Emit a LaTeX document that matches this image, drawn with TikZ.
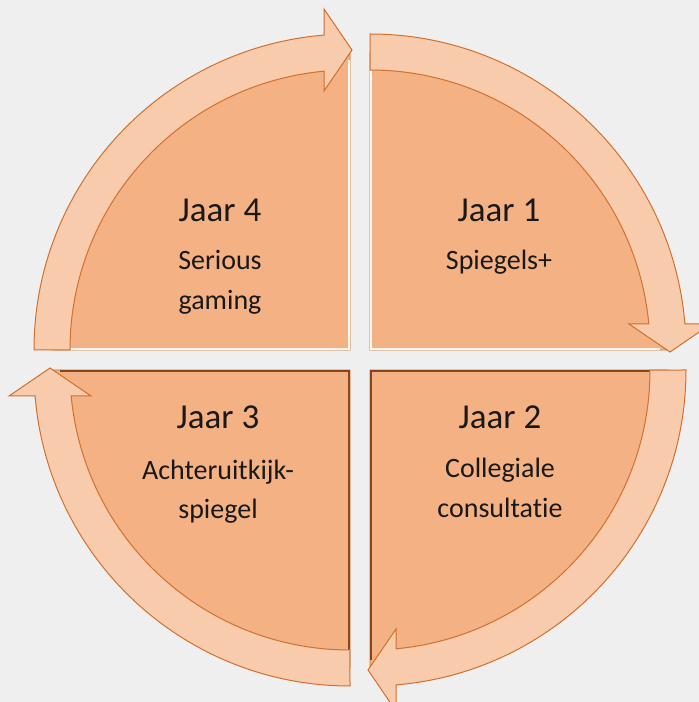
\documentclass[tikz,border=0pt]{standalone}
\usepackage{fontspec}
\setmainfont{Carlito}[Ligatures={NoCommon}]
\definecolor{bg}{HTML}{EFEFEF}
\definecolor{piefill}{HTML}{F4B183}
\definecolor{bandfill}{HTML}{F8CBAD}
\definecolor{edgecol}{HTML}{D2702C}
\definecolor{darkcol}{HTML}{8A4516}
\definecolor{lightcol}{HTML}{FFF6EE}
\tikzset{
  x=1pt, y=1pt,
  piebox/.style={fill=piefill, draw=edgecol, line width=0.8pt},
  bandshape/.style={fill=bandfill, draw=edgecol, line width=1pt, line join=miter},
  hilite/.style={draw=lightcol, line width=1.4pt},
  lolite/.style={draw=darkcol, line width=1.6pt},
  titletext/.style={font=\fontsize{35}{42}\selectfont, anchor=base, inner sep=0pt, text=black!90},
  bodytext/.style={font=\fontsize{28}{34}\selectfont, anchor=base, inner sep=0pt, text=black!90},
}
\begin{document}
\begin{tikzpicture}
\fill[bg] (0,0) rectangle (699,702);
\useasboundingbox (0,0) rectangle (699,702);
% quadrants: centre, rotation, highlight style
\foreach \cx/\cy/\rot/\hl in {370/352/0/hilite, 370/332/-90/lolite, 350/332/-180/lolite, 350/352/90/hilite}{
  \begin{scope}[shift={(\cx,\cy)}, rotate=\rot]
    \path[piebox] (0,0) -- (0,298) arc[start angle=90, end angle=0, radius=298] -- cycle;
    \path[\hl] (1,290) -- (1,1) -- (290,1);
  \end{scope}
}
\foreach \cx/\cy/\rot in {370/352/0, 370/332/-90, 350/332/-180, 350/352/90}{
  \begin{scope}[shift={(\cx,\cy)}, rotate=\rot]
    \path[bandshape] (0,316) arc[start angle=90, end angle=4.72, radius=316]
      -- (341,26) -- (300,-2) -- (259,26) -- (278.8,26)
      arc[start angle=5.33, end angle=90, radius=280] -- cycle;
  \end{scope}
}
% texts (Y = 702 - pixel y)
\node[titletext] (t1) at (499,480) {Jaar 1};
\node[bodytext]  (b1) at (499,432) {Spiegels+};
\node[titletext] (t4) at (220,480) {Jaar 4};
\node[bodytext]  (b4a) at (220,432) {Serious};
\node[bodytext]  (b4b) at (220,392) {gaming};
\node[titletext] (t3) at (218,273) {Jaar 3};
\node[bodytext]  (b3a) at (218,222) {Achteruitkijk-};
\node[bodytext]  (b3b) at (218,183) {spiegel};
\node[titletext] (t2) at (500,273) {Jaar 2};
\node[bodytext]  (b2a) at (500,224) {Collegiale};
\node[bodytext]  (b2b) at (500,184) {consultatie};
\end{tikzpicture}
\end{document}
